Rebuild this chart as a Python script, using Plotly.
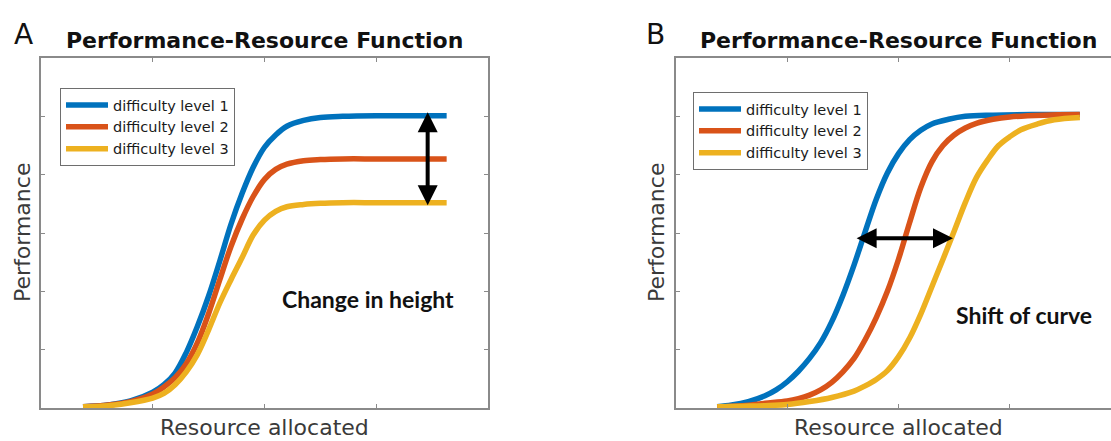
import plotly.graph_objects as go

W, H = 1111, 441

series_names = ["difficulty level 1", "difficulty level 2", "difficulty level 3"]
colors = ["#0072BD", "#D95319", "#EDB120"]

# Panel A: change in height
a1_x = [0.376, 0.6, 0.8, 1.0, 1.1, 1.2, 1.3, 1.4, 1.5, 1.6, 1.7, 1.8, 1.9, 2.0, 2.1, 2.2, 2.35, 2.5, 2.7, 3.0, 3.3, 3.63]
a1_y = [0.02, 0.05, 0.12, 0.27, 0.40, 0.60, 0.95, 1.40, 1.92, 2.52, 3.15, 3.68, 4.13, 4.47, 4.68, 4.83, 4.93, 4.98, 5.00, 5.01, 5.01, 5.01]
a2_x = [0.376, 0.6, 0.8, 1.0, 1.1, 1.2, 1.3, 1.4, 1.5, 1.6, 1.7, 1.8, 1.9, 2.0, 2.1, 2.2, 2.35, 2.5, 2.7, 3.0, 3.3, 3.63]
a2_y = [0.02, 0.05, 0.11, 0.24, 0.36, 0.52, 0.76, 1.12, 1.62, 2.20, 2.77, 3.24, 3.63, 3.92, 4.09, 4.18, 4.24, 4.26, 4.27, 4.27, 4.27, 4.27]
a3_x = [0.376, 0.6, 0.8, 1.0, 1.1, 1.2, 1.3, 1.4, 1.5, 1.6, 1.7, 1.8, 1.9, 2.0, 2.1, 2.2, 2.35, 2.5, 2.7, 3.0, 3.3, 3.63]
a3_y = [0.02, 0.04, 0.09, 0.17, 0.25, 0.40, 0.62, 0.92, 1.34, 1.80, 2.20, 2.58, 2.97, 3.22, 3.37, 3.45, 3.49, 3.51, 3.52, 3.52, 3.52, 3.52]

# Panel B: shift of curve
b1_x = [0.37, 0.5, 0.65, 0.8, 0.9, 1.0, 1.1, 1.2, 1.3, 1.4, 1.5, 1.6, 1.7, 1.8, 1.9, 2.0, 2.1, 2.2, 2.3, 2.45, 2.6, 2.85, 3.2, 3.63]
b1_y = [0.02, 0.05, 0.11, 0.21, 0.31, 0.45, 0.63, 0.85, 1.12, 1.48, 1.93, 2.45, 3.02, 3.58, 4.03, 4.36, 4.60, 4.76, 4.87, 4.95, 5.00, 5.02, 5.03, 5.03]
b2_x = [0.37, 0.6, 0.8, 1.0, 1.1, 1.2, 1.3, 1.4, 1.5, 1.6, 1.7, 1.8, 1.9, 2.0, 2.1, 2.2, 2.3, 2.4, 2.5, 2.6, 2.7, 2.85, 3.0, 3.3, 3.63]
b2_y = [0.02, 0.04, 0.08, 0.12, 0.16, 0.22, 0.31, 0.44, 0.62, 0.85, 1.17, 1.55, 2.00, 2.55, 3.18, 3.78, 4.22, 4.50, 4.68, 4.80, 4.88, 4.95, 4.99, 5.02, 5.03]
b3_x = [0.37, 0.6, 0.8, 1.0, 1.2, 1.4, 1.6, 1.7, 1.8, 1.9, 2.0, 2.1, 2.2, 2.3, 2.4, 2.5, 2.6, 2.7, 2.8, 2.9, 3.0, 3.1, 3.25, 3.4, 3.63]
b3_y = [0.02, 0.03, 0.04, 0.06, 0.11, 0.18, 0.29, 0.38, 0.49, 0.64, 0.88, 1.20, 1.61, 2.08, 2.55, 3.03, 3.52, 3.95, 4.25, 4.50, 4.65, 4.77, 4.87, 4.94, 4.98]

tick_x = [1, 2, 3]
tick_y = [1, 2, 3, 4, 5]
range_a_x = [0, 4]
range_b_x = [0, 3.91]
range_y = [0, 6]

# arrows (data units)
arrow_a_x, arrow_a_top, arrow_a_bottom = 3.46, 5.07, 3.45
arrow_b_y, arrow_b_left, arrow_b_right = 2.91, 1.61, 2.49

fig = go.Figure()
panel_a = [(a1_x, a1_y), (a2_x, a2_y), (a3_x, a3_y)]
panel_b = [(b1_x, b1_y), (b2_x, b2_y), (b3_x, b3_y)]
for i, (xs, ys) in enumerate(panel_a):
    fig.add_trace(go.Scatter(x=xs, y=ys, mode="lines", name=series_names[i],
                             line=dict(color=colors[i], width=5.5, shape="spline", smoothing=1.0),
                             xaxis="x", yaxis="y", legend="legend"))
for i, (xs, ys) in enumerate(panel_b):
    fig.add_trace(go.Scatter(x=xs, y=ys, mode="lines", name=series_names[i],
                             line=dict(color=colors[i], width=5.5, shape="spline", smoothing=1.0),
                             xaxis="x2", yaxis="y2", legend="legend2"))

axcol = "#8a8a8a"
def px_x(p):
    return p / W
def px_y(p):
    return 1 - p / H

ydom = [px_y(408), px_y(58)]
common = dict(showgrid=False, zeroline=False, showticklabels=False, ticks="inside",
              ticklen=4, tickwidth=1, tickcolor=axcol, showline=True, linecolor=axcol,
              linewidth=1.5)

legend_font = dict(family="DejaVu Sans", size=14.5, color="#1a1a1a")
fig.update_layout(
    width=W, height=H, margin=dict(l=0, r=0, t=0, b=0),
    paper_bgcolor="white", plot_bgcolor="white",
    xaxis=dict(domain=[px_x(41), px_x(488)], range=range_a_x, tickvals=tick_x, mirror="ticks", anchor="y", **common),
    yaxis=dict(domain=ydom, range=range_y, tickvals=tick_y, mirror="ticks", anchor="x", **common),
    xaxis2=dict(domain=[px_x(676), 1.0], range=range_b_x, tickvals=tick_x, mirror="ticks", anchor="y2", **common),
    yaxis2=dict(domain=ydom, range=range_y, tickvals=tick_y, mirror=False, anchor="x2", **common),
    legend=dict(x=px_x(60), y=px_y(88), xanchor="left", yanchor="top", bgcolor="white",
                bordercolor="#6e6e6e", borderwidth=1, tracegroupgap=0, itemwidth=42,
                font=legend_font),
    legend2=dict(x=px_x(693), y=px_y(92), xanchor="left", yanchor="top", bgcolor="white",
                 bordercolor="#6e6e6e", borderwidth=1, tracegroupgap=0, itemwidth=42,
                 font=legend_font),
    showlegend=True,
)

title_font = dict(family="DejaVu Sans", size=22, color="#111111")
label_font = dict(family="DejaVu Sans", size=22, color="#3a3a3a")
letter_font = dict(family="DejaVu Sans", size=28, color="#111111")
note_font = dict(family="Lato", size=23, color="#111111")

anns = [
    dict(text="A", x=px_x(23), y=px_y(34), font=letter_font),
    dict(text="B", x=px_x(655), y=px_y(34), font=letter_font),
    dict(text="<b>Performance-Resource Function</b>", x=px_x(264), y=px_y(40), font=title_font),
    dict(text="<b>Performance-Resource Function</b>", x=px_x(898), y=px_y(40), font=title_font),
    dict(text="Resource allocated", x=px_x(264), y=px_y(427), font=label_font),
    dict(text="Resource allocated", x=px_x(898), y=px_y(427), font=label_font),
    dict(text="Performance", x=px_x(22), y=px_y(233), font=label_font, textangle=-90),
    dict(text="Performance", x=px_x(656), y=px_y(233), font=label_font, textangle=-90),
]
for a in anns:
    fig.add_annotation(xref="paper", yref="paper", showarrow=False, xanchor="center", yanchor="middle", **a)

fig.add_annotation(xref="x", yref="y", x=2.93, y=1.87, text="<b>Change in height</b>",
                   showarrow=False, font=note_font)
fig.add_annotation(xref="x2", yref="y2", x=3.13, y=1.59, text="<b>Shift of curve</b>",
                   showarrow=False, font=note_font)

fig.add_annotation(xref="x", yref="y", axref="x", ayref="y", x=arrow_a_x, y=arrow_a_top,
                   ax=arrow_a_x, ay=arrow_a_bottom, text="", showarrow=True,
                   arrowhead=2, startarrowhead=2, arrowside="end+start", arrowwidth=4,
                   arrowsize=1.0, startarrowsize=1.0, arrowcolor="black", standoff=0, startstandoff=0)
fig.add_annotation(xref="x2", yref="y2", axref="x2", ayref="y2", x=arrow_b_right, y=arrow_b_y,
                   ax=arrow_b_left, ay=arrow_b_y, text="", showarrow=True,
                   arrowhead=2, startarrowhead=2, arrowside="end+start", arrowwidth=4,
                   arrowsize=1.0, startarrowsize=1.0, arrowcolor="black", standoff=0, startstandoff=0)

fig.write_html("out.html", config={"displayModeBar": False},
               post_script="document.body.style.margin='0px';document.body.style.overflow='hidden';")
